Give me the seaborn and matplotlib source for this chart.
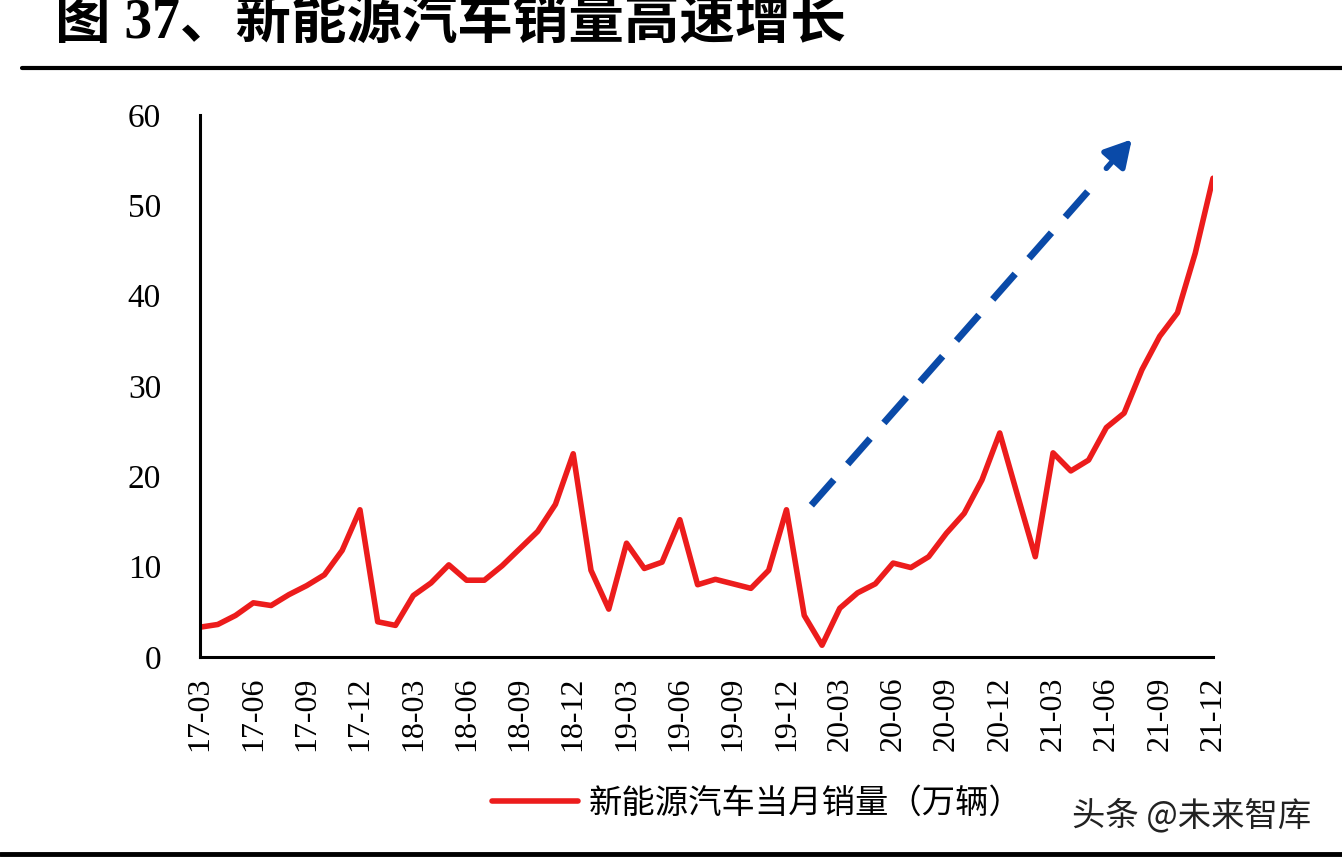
import matplotlib
matplotlib.use("Agg")
import matplotlib.pyplot as plt
import seaborn as sns
import pandas as pd

# 数据: 2017-03 ~ 2021-12 新能源汽车当月销量(万辆)
months = [f"{y:02d}-{m:02d}" for y in range(17, 22) for m in range(1, 13)][2:]
sales = [3.3, 3.6, 4.6, 6.0, 5.7, 6.9, 7.9, 9.1, 11.8, 16.3,
         3.9, 3.5, 6.8, 8.2, 10.2, 8.5, 8.5, 10.1, 12.0, 13.9, 16.9, 22.5,
         9.6, 5.3, 12.6, 9.8, 10.5, 15.2, 8.0, 8.6, 8.1, 7.6, 9.6, 16.3,
         4.6, 1.3, 5.4, 7.1, 8.1, 10.4, 9.9, 11.1, 13.7, 15.9, 19.6, 24.8,
         17.9, 11.1, 22.6, 20.6, 21.8, 25.4, 27.0, 31.8, 35.5, 38.1, 44.7, 53.0]
legend_label = "新能源汽车当月销量（万辆）"
title = "图 37、新能源汽车销量高速增长"

df = pd.DataFrame({"idx": range(len(months)), "month": months, "sales": sales})

sns.set_style("white")
plt.rcParams['font.family'] = ['Noto Sans CJK SC', 'DejaVu Sans']
plt.rcParams['text.color'] = 'black'

fig = plt.figure(figsize=(13.42, 8.58), dpi=100)
ax = fig.add_axes([200 / 1342, 1 - 657 / 858, 1013 / 1342, 542 / 858])

sns.lineplot(data=df, x="idx", y="sales", ax=ax, color="#ec1c1c", linewidth=4,
             label=legend_label, legend=False)

ax.set_xlim(0, len(months) - 1)
ax.set_ylim(0, 60)
ax.set_xticks(df["idx"][::3])
ax.set_xticklabels(df["month"][::3], rotation=90, family='Liberation Serif', fontsize=23)
ax.set_yticks(range(0, 61, 10))
ax.set_yticklabels([str(v) for v in range(0, 61, 10)], family='Liberation Serif', fontsize=24)
ax.set_xlabel("")
ax.set_ylabel("")
for s in ["top", "right"]:
    ax.spines[s].set_visible(False)
for s in ["left", "bottom"]:
    ax.spines[s].set_linewidth(2.2)
    ax.spines[s].set_color("black")
ax.tick_params(axis='y', direction='in', length=7, width=2, pad=28, colors='black')
ax.tick_params(axis='x', direction='in', length=7, width=2, pad=14, colors='black')

# 趋势箭头: 虚线箭杆 + 实心箭头
ax.plot([34.4, 50.3], [16.8, 52.3], color="#0a4aa8", lw=5, linestyle=(0, (4.9, 3)),
        solid_capstyle='butt', dash_capstyle='butt')
ax.annotate("", xy=(52.43, 57.3), xytext=(51.0, 54.1),
            arrowprops=dict(arrowstyle="-|>,head_length=1.6,head_width=0.9",
                            color="#0a4aa8", lw=4, shrinkA=0, shrinkB=0))

# 标题及分隔线
fig.text(55 / 1342, 1 - 24 / 858, title, fontsize=40, fontweight='heavy', color='black',
         family=['Liberation Serif', 'Noto Sans CJK SC'], va='center', ha='left')
fig.add_artist(plt.Line2D([22 / 1342, 1], [1 - 68 / 858] * 2, color='black', lw=3,
                          transform=fig.transFigure))
fig.add_artist(plt.Line2D([0, 1], [1 - 854 / 858] * 2, color='black', lw=3.5,
                          transform=fig.transFigure))

# 图例与水印
handles, labels = ax.get_legend_handles_labels()
leg = fig.legend(handles, labels, loc='center', bbox_to_anchor=(757 / 1342, 1 - 803 / 858),
                 frameon=False, fontsize=24, handlelength=2.6, handletextpad=0.3)
for t in leg.get_texts():
    t.set_color('black')
fig.text(1072 / 1342, 1 - 816 / 858, "头条 @未来智库", fontsize=24, color='#222222',
         va='center', ha='left')

fig.savefig("out.png", dpi=100)
